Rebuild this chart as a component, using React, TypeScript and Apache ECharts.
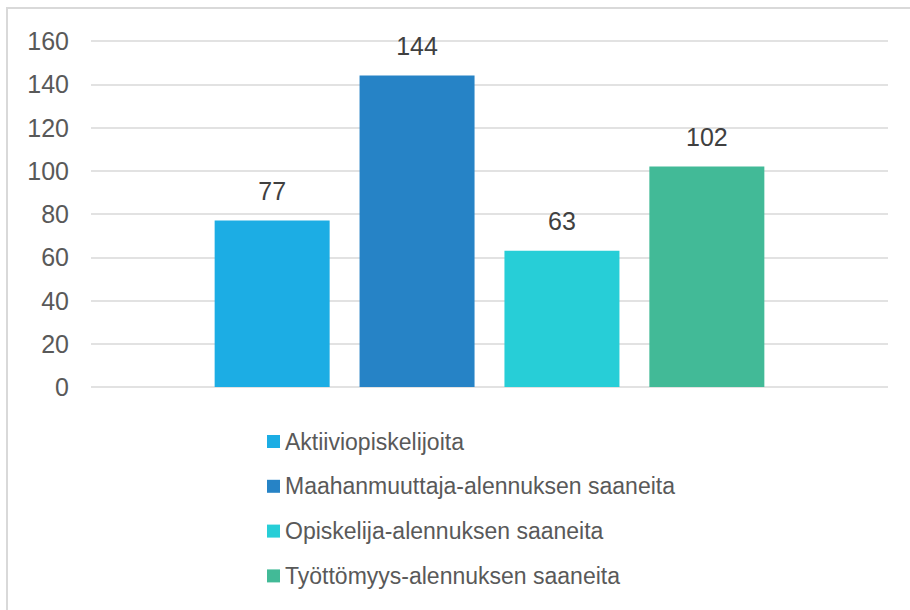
import React, { useEffect, useRef } from "react";
import * as echarts from "echarts";

const categories = [""];
const seriesNames = [
  "Aktiiviopiskelijoita",
  "Maahanmuuttaja-alennuksen saaneita",
  "Opiskelija-alennuksen saaneita",
  "Työttömyys-alennuksen saaneita",
];
const seriesValues = [77, 144, 63, 102];
const seriesColors = ["#1CADE4", "#2683C6", "#27CED7", "#42BA97"];
const yMin = 0;
const yMax = 160;
const yInterval = 20;

export default function App() {
  const ref = useRef<HTMLDivElement>(null);
  useEffect(() => {
    document.body.style.margin = "0";
    if (!ref.current) return;
    const chart = echarts.init(ref.current, undefined, { renderer: "svg" });
    const font = "'Liberation Sans', Arial, sans-serif";
    chart.setOption({
      animation: false,
      backgroundColor: "#ffffff",
      graphic: [
        {
          type: "rect",
          shape: { x: 7, y: 8, width: 1000, height: 700 },
          style: { fill: "none", stroke: "#d9d9d9", lineWidth: 2 },
          silent: true,
        },
      ],
      grid: { left: 91, right: 22, top: 41, bottom: 223, containLabel: false },
      legend: {
        orient: "vertical",
        left: 262,
        top: 425,
        itemWidth: 13,
        itemHeight: 13,
        itemGap: 21.8,
        icon: "rect",
        textStyle: { fontFamily: font, fontSize: 23, color: "#595959", lineHeight: 23 },
        data: seriesNames,
      },
      xAxis: {
        type: "category",
        data: categories,
        axisLine: { show: false },
        axisTick: { show: false },
        axisLabel: { show: false },
      },
      yAxis: {
        type: "value",
        min: yMin,
        max: yMax,
        interval: yInterval,
        axisLine: { show: false },
        axisTick: { show: false },
        axisLabel: { fontFamily: font, fontSize: 25, color: "#595959", margin: 22 },
        splitLine: { lineStyle: { color: "#d9d9d9", width: 1.5 } },
      },
      series: seriesNames.map((name, i) => ({
        name,
        type: "bar",
        data: [seriesValues[i]],
        barWidth: 115,
        barGap: "26%",
        itemStyle: { color: seriesColors[i] },
        label: {
          show: true,
          position: "top",
          distance: 17,
          fontFamily: font,
          fontSize: 25,
          color: "#404040",
        },
      })),
    });
    return () => chart.dispose();
  }, []);
  return <div ref={ref} style={{ width: 910, height: 610 }} />;
}
